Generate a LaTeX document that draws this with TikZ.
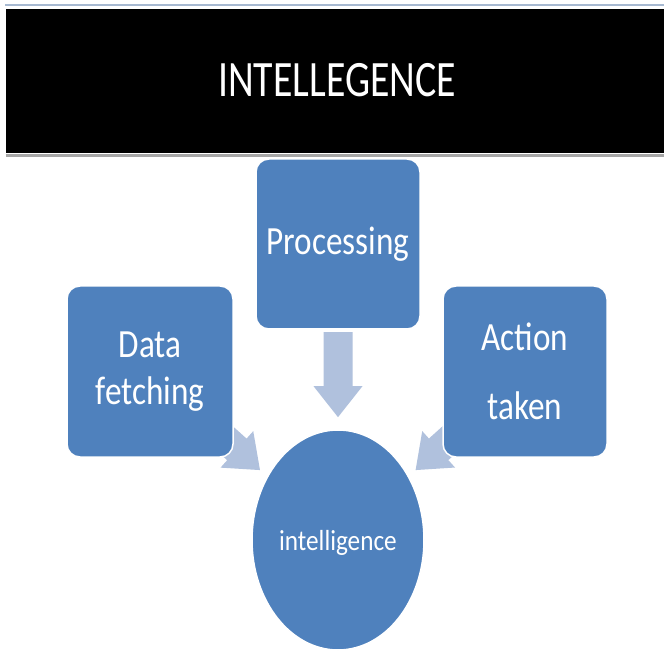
\documentclass[tikz,border=0pt]{standalone}
\usepackage{fontspec}
\setmainfont{Carlito}
\newfontfamily\titlefont{Carlito}[FakeStretch=0.78]
\newfontfamily\boxfont{Carlito}[FakeStretch=0.83]
\newfontfamily\circfont{Carlito}[FakeStretch=0.87]
\usetikzlibrary{shapes.geometric,calc}
\definecolor{accblue}{HTML}{4F81BD}
\definecolor{arrblue}{HTML}{B0C1DD}
\definecolor{toplinecol}{HTML}{A7B9D1}
\pgfdeclarelayer{bg}
\pgfdeclarelayer{arrows}
\pgfsetlayers{bg,arrows,main}
\newcommand\blockarrow[2]{%
  \path ($(#1.center)!0.585!(#2.center)$) coordinate (T)
        ($(T)!-31pt!(#2.center)$) coordinate (C)
        ($(T)!-85pt!(#2.center)$) coordinate (E);
  \fill[arrowfill] (T) -- ($(C)!24.5pt!90:(#2.center)$) -- ($(C)!14.5pt!90:(#2.center)$)
    -- ($(E)!14.5pt!90:(#2.center)$) -- ($(E)!14.5pt!-90:(#2.center)$)
    -- ($(C)!14.5pt!-90:(#2.center)$) -- ($(C)!24.5pt!-90:(#2.center)$) -- cycle;}
\begin{document}
\begin{tikzpicture}[x=1pt,y=-1pt,
  box/.style={rectangle, rounded corners=13pt, fill=accblue, draw=white,
    line width=1.5pt, text=white, align=center, inner sep=0pt},
  circ/.style={ellipse, fill=accblue, draw=white, line width=1.5pt,
    text=white, inner sep=0pt, minimum width=172pt, minimum height=220pt,
    font=\circfont\fontsize{29}{34}\selectfont},
  arrowfill/.style={fill=arrblue},
  titlebar/.style={rectangle, fill=black, inner sep=0pt,
    minimum width=658pt, minimum height=144pt},
  titletext/.style={text=white, inner sep=0pt,
    font=\titlefont\fontsize{51}{60}\selectfont},
  topline/.style={draw=toplinecol, line width=1.5pt},
  shadowline/.style={draw=black!35, line width=3pt}]
\useasboundingbox (0,0) rectangle (664,652);
\begin{pgfonlayer}{bg}
\fill[white] (0,0) rectangle (664,652);
\end{pgfonlayer}
\coordinate (tl1) at (5,5);
\coordinate (tl2) at (664,5);
\draw[topline] (tl1) -- (tl2);
\node[titlebar] (bar) at (335,81) {};
\draw[shadowline] ($(bar.south west)+(0,2.5)$) coordinate (s1) -- ($(bar.south east)+(0,2.5)$) coordinate (s2);
\node[titletext] (title) at (337,80) {INTELLEGENCE};
\node[box, minimum width=164pt, minimum height=170pt,
  font=\boxfont\fontsize{40}{48}\selectfont] (proc) at (338,244) {Processing};
\node[box, minimum width=166pt, minimum height=171pt,
  font=\boxfont\fontsize{40}{47}\selectfont] (data) at (150,371.5) {Data\\fetching};
\node[box, minimum width=164pt, minimum height=171pt,
  font=\boxfont\fontsize{40}{69}\selectfont] (act) at (525,371.5) {Action\\taken};
\node[circ] (intel) at (338,540) {\raisebox{-10pt}[0pt][0pt]{intelligence}};
\begin{pgfonlayer}{arrows}
\blockarrow{proc}{intel}
\blockarrow{data}{intel}
\blockarrow{act}{intel}
\end{pgfonlayer}
\end{tikzpicture}
\end{document}
